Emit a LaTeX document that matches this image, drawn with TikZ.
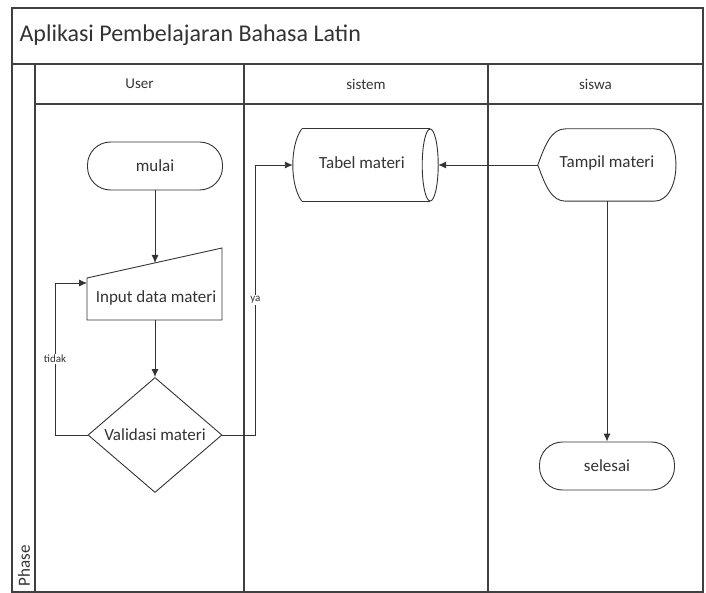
\documentclass[tikz,border=0pt]{standalone}
\usepackage{fontspec}
\setmainfont{Carlito}
\usetikzlibrary{shapes.geometric,calc,arrows.meta}
\tikzset{>={Latex[length=8pt,width=7pt]}}
\tikzset{
  lane/.style={draw=black!75, line width=1.2pt},
  flow/.style={draw=black!80, line width=0.9pt},
  terminal/.style={flow, rounded corners=23pt, minimum width=135pt, minimum height=48pt, font=\fontsize{17}{20}\selectfont},
  label/.style={font=\fontsize{17}{20}\selectfont, text=black!80},
  small/.style={fill=white, inner sep=1pt, font=\fontsize{11}{12}\selectfont, text=black!80}
}

\begin{document}
\begin{tikzpicture}[x=1pt, y=-1pt, text=black!80]
\useasboundingbox (0,0) rectangle (706,593);
% frame and lanes
\draw[lane] (12,8) rectangle (703,592);
\draw[lane] (12,64) -- (703,64);
\draw[lane] (35,104) -- (703,104);
\draw[lane] (35,64) -- (35,592);
\draw[lane] (244,64) -- (244,592);
\draw[lane] (488,64) -- (488,592);
\node[anchor=west, font=\fontsize{24}{28}\selectfont] (title) at (16,35) {Aplikasi Pembelajaran Bahasa Latin};
\node[font=\fontsize{15}{18}\selectfont] (user) at (139.5,84) {User};
\node[font=\fontsize{15}{18}\selectfont] (sistem) at (366,84) {sistem};
\node[font=\fontsize{15}{18}\selectfont] (siswa) at (595.5,84) {siswa};
\node[rotate=90, anchor=west, font=\fontsize{17}{20}\selectfont] (phase) at (24,590) {Phase};

% User
\node[terminal] (mulai) at (155,166) {mulai};
\coordinate (inNW) at (87,278);
\coordinate (inNE) at (222,248);
\coordinate (inSE) at (222,320);
\coordinate (inSW) at (87,320);
\draw[flow] (inNW) -- (inNE) -- (inSE) -- (inSW) -- cycle;
\node[label] (input) at (156,298) {Input data materi};
\coordinate (intop) at (155,263);
\coordinate (inbot) at (155,320);
\coordinate (inleft) at (87,283);
\node[flow, diamond, minimum width=134pt, minimum height=115pt, inner sep=0pt, aspect=1.2] (valid) at (155,435) {};
\node[label] at (valid) {Validasi materi};

% sistem
\node[minimum width=145pt, minimum height=72pt] (tabel) at (365.5,165) {};
\draw[flow] ($(tabel.north west)+(9,0)$) -- ($(tabel.north east)+(-8,0)$);
\draw[flow] ($(tabel.south west)+(9,0)$) -- ($(tabel.south east)+(-8,0)$);
\draw[flow] ($(tabel.north west)+(9,0)$) .. controls +(-12,16) and +(-12,-16) .. ($(tabel.south west)+(9,0)$);
\draw[flow] ($(tabel.east)+(-8,0)$) ellipse (8pt and 36pt);
\node[label] at (362,163) {Tabel materi};

% siswa
\node[minimum width=138pt, minimum height=72pt] (tampil) at (607,165) {};
\draw[flow] (tampil.west) .. controls +(8,-22) and +(-14,0) .. ($(tampil.north west)+(28,0)$)
  -- ($(tampil.north east)+(-22,0)$) .. controls +(29,0) and +(29,0) .. ($(tampil.south east)+(-22,0)$)
  -- ($(tampil.south west)+(28,0)$) .. controls +(-14,0) and +(8,22) .. (tampil.west);
\node[label] at (607,163) {Tampil materi};
\node[terminal] (selesai) at (607,466) {selesai};

% arrows
\draw[flow, ->] (mulai) -- (intop);
\draw[flow, ->] (inbot) -- (valid);
\draw[flow, ->] (valid.west) -| node[small, pos=0.75] {tidak} ($(inleft)+(-32,0)$) -- (inleft);
\draw[flow, ->] (valid.east) -- ++(33,0) |- node[small, pos=0.25] {ya} (tabel.west);
\draw[flow, ->] (tampil.west) -- (tabel.east);
\draw[flow, ->] (tampil.south) -- (selesai.north);
\end{tikzpicture}
\end{document}
